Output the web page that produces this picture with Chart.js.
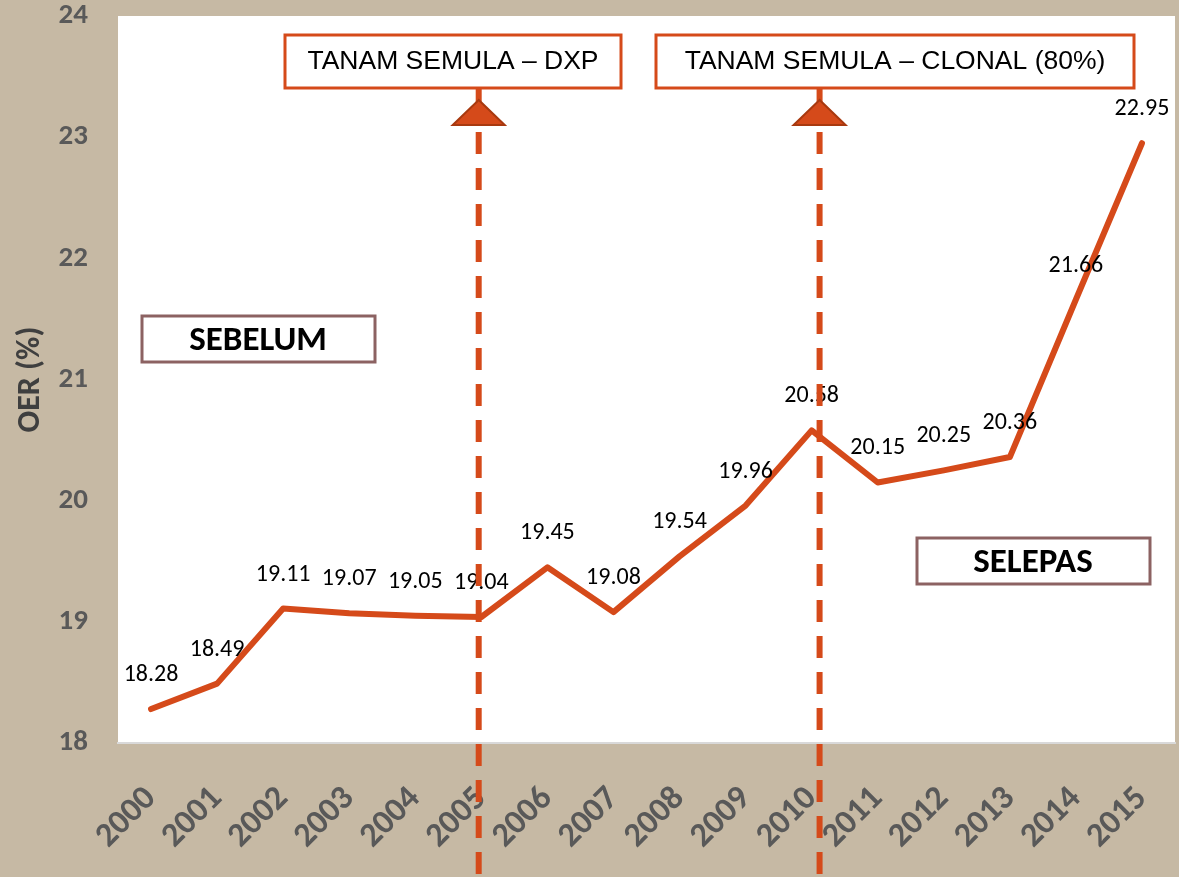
<!DOCTYPE html>
<html>
<head>
<meta charset="utf-8">
<script src="https://cdn.jsdelivr.net/npm/chart.js@4"></script>
<style>
  html, body { margin: 0; padding: 0; background: #c6b9a4; }
  #wrap { width: 1179px; height: 877px; position: relative; }
</style>
</head>
<body>
<div id="wrap"><canvas id="chart"></canvas></div>
<script>
const years = ['2000', '2001', '2002', '2003', '2004', '2005', '2006', '2007',
               '2008', '2009', '2010', '2011', '2012', '2013', '2014', '2015'];
const oer = [18.28, 18.49, 19.11, 19.07, 19.05, 19.04, 19.45, 19.08,
             19.54, 19.96, 20.58, 20.15, 20.25, 20.36, 21.66, 22.95];
const markers = [
    { at: 5, shift: -0.04, text: 'TANAM SEMULA \u2013 DXP' },
    { at: 10, shift: 0.12, text: 'TANAM SEMULA \u2013 CLONAL (80%)' }
];
const phases = ['SEBELUM', 'SELEPAS'];

const orange = '#d54a1a';
const grey = '#595959';
const sans = 'Carlito, Lato, "Open Sans", sans-serif';

function box(ctx, x, y, w, h, stroke, lw) {
    ctx.fillStyle = '#ffffff';
    ctx.fillRect(x, y, w, h);
    ctx.strokeStyle = stroke;
    ctx.lineWidth = lw;
    ctx.strokeRect(x, y, w, h);
}

const extras = {
    id: 'extras',
    beforeDraw(chart) {
        const a = chart.chartArea;
        const ctx = chart.ctx;
        ctx.save();
        ctx.fillStyle = '#ffffff';
        ctx.fillRect(a.left, a.top, a.right - a.left, a.bottom - a.top);
        ctx.restore();
    },
    afterDraw(chart) {
        const ctx = chart.ctx;
        const xs = chart.scales.x;
        const meta = chart.getDatasetMeta(0);
        ctx.save();

        // value labels
        ctx.font = '24px ' + sans;
        ctx.fillStyle = '#000000';
        ctx.textAlign = 'center';
        ctx.textBaseline = 'middle';
        meta.data.forEach((p, i) => {
            ctx.fillText(oer[i].toFixed(2), p.x, p.y - 34);
        });

        // dashed markers with triangles
        markers.forEach(m => {
            const x = xs.getPixelForValue(m.at + m.shift);
            ctx.strokeStyle = orange;
            ctx.lineWidth = 6;
            ctx.setLineDash([22, 14]);
            ctx.beginPath();
            ctx.moveTo(x, 132);
            ctx.lineTo(x, chart.height);
            ctx.stroke();
            ctx.setLineDash([]);
            ctx.beginPath();
            ctx.moveTo(x, 88);
            ctx.lineTo(x, 102);
            ctx.stroke();
            ctx.beginPath();
            ctx.moveTo(x, 100);
            ctx.lineTo(x - 26, 125);
            ctx.lineTo(x + 26, 125);
            ctx.closePath();
            ctx.fillStyle = orange;
            ctx.fill();
            ctx.strokeStyle = '#a8390f';
            ctx.lineWidth = 2;
            ctx.stroke();
        });

        // top boxes
        ctx.font = '26.5px "Liberation Sans", Arial, sans-serif';
        const tops = [[285, 336], [656, 478]];
        markers.forEach((m, i) => {
            const [bx, bw] = tops[i];
            box(ctx, bx, 35, bw, 53, orange, 3);
            ctx.fillStyle = '#000000';
            ctx.fillText(m.text, bx + bw / 2, 62);
        });

        // phase boxes
        ctx.font = 'bold 35px ' + sans;
        const pb = [[142, 316], [917, 538]];
        phases.forEach((t, i) => {
            const [bx, by] = pb[i];
            box(ctx, bx, by, 233, 46, '#8c6262', 3);
            ctx.fillStyle = '#000000';
            ctx.fillText(t, bx + 116, by + 25);
        });
        ctx.restore();
    }
};

new Chart(document.getElementById('chart'), {
    type: 'line',
    data: {
        labels: years,
        datasets: [{
            label: 'OER',
            data: oer,
            borderColor: orange,
            borderWidth: 6,
            pointRadius: 0,
            tension: 0,
            borderCapStyle: 'round',
            borderJoinStyle: 'round'
        }]
    },
    options: {
        responsive: true,
        maintainAspectRatio: false,
        animation: false,
        layout: { padding: { left: 12, top: 16, right: 4, bottom: 0 } },
        plugins: { legend: { display: false }, tooltip: { enabled: false } },
        scales: {
            x: {
                offset: true,
                grid: { display: false, drawTicks: false },
                border: { display: true, color: '#d9d9d9', width: 2 },
                ticks: {
                    color: grey,
                    font: { family: sans, size: 34, weight: 'bold' },
                    minRotation: 45,
                    maxRotation: 45,
                    padding: 36
                },
                afterFit(s) {
                    s.height = 134;
                    s.paddingLeft = 0;
                    s.paddingRight = 0;
                }
            },
            y: {
                min: 18,
                max: 24,
                grid: { display: false, drawTicks: false },
                border: { display: false },
                ticks: {
                    stepSize: 1,
                    color: grey,
                    font: { family: sans, size: 29, weight: 'bold' },
                    padding: 30
                },
                title: {
                    display: true,
                    text: 'OER (%)',
                    color: '#3f3f3f',
                    font: { family: sans, size: 32, weight: 'bold' },
                    padding: 0
                },
                afterFit(s) {
                    s.width = 106;
                    s.paddingTop = 0;
                    s.paddingBottom = 0;
                }
            }
        }
    },
    plugins: [extras]
});
</script>
</body>
</html>
